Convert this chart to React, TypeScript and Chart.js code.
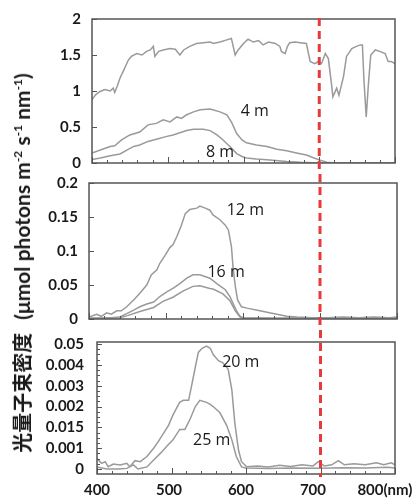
import React, { useEffect, useRef } from "react";
import { Chart, registerables } from "chart.js";
Chart.register(...registerables);

// ---------- shared axis data ----------
const X_MIN = 400;
const X_MAX = 800;
const X_LABEL_TICKS = [400, 500, 600, 700, 800];
const X_TICK_LABELS = ["400", "500", "600", "700", "800(nm)"];
const RED_LINE_NM = 700;

// ---------- panel 1 (0 - 2) ----------
const P1_Y_TICKS = [0, 0.5, 1, 1.5, 2];
const P1_Y_LABELS = ["0", "0.5", "1", "1.5", "2"];
const SURFACE: [number, number][] = [
  [400, 0.88], [405, 0.95], [410, 0.99], [417, 1.02], [424, 1.0], [428, 1.04], [430, 0.98], [433, 1.06],
  [437, 1.18], [441, 1.27], [448, 1.43], [452, 1.48], [459, 1.52], [466, 1.5], [472, 1.55], [477, 1.57],
  [481, 1.62], [483, 1.48], [488, 1.55], [494, 1.57], [503, 1.59], [510, 1.58], [516, 1.5], [521, 1.57],
  [529, 1.62], [538, 1.66], [547, 1.67], [556, 1.68], [560, 1.66], [569, 1.68], [578, 1.71], [584, 1.73],
  [589, 1.5], [593, 1.57], [600, 1.66], [606, 1.72], [613, 1.68], [620, 1.7], [626, 1.64], [633, 1.68],
  [642, 1.66], [648, 1.62], [650, 1.55], [655, 1.52], [658, 1.62], [661, 1.67], [668, 1.68], [675, 1.67],
  [683, 1.66], [688, 1.41], [694, 1.38], [699, 1.41], [703, 1.38], [708, 1.52], [712, 1.45], [716, 1.11],
  [718, 0.92], [723, 1.04], [726, 0.94], [732, 1.2], [736, 1.48], [743, 1.59], [749, 1.62], [754, 1.64],
  [757, 1.64], [759, 1.15], [762, 0.64], [765, 1.11], [768, 1.5], [774, 1.57], [780, 1.55], [787, 1.52],
  [791, 1.41], [795, 1.41], [800, 1.38],
];
const DEPTH_4M: [number, number][] = [
  [400, 0.14], [411, 0.18], [424, 0.23], [430, 0.24], [439, 0.32], [450, 0.39], [463, 0.43], [474, 0.53],
  [485, 0.55], [494, 0.6], [503, 0.57], [512, 0.64], [518, 0.62], [525, 0.67], [534, 0.71], [543, 0.74],
  [556, 0.75], [569, 0.71], [578, 0.67], [584, 0.57], [591, 0.41], [598, 0.32], [604, 0.28], [617, 0.25],
  [631, 0.23], [644, 0.19], [657, 0.17], [670, 0.14], [683, 0.11], [694, 0.065], [701, 0.04], [710, 0.01],
  [718, 0.003], [740, 0.002], [770, 0.002], [800, 0.002],
];
const DEPTH_8M: [number, number][] = [
  [400, 0.05], [411, 0.07], [424, 0.1], [437, 0.125], [446, 0.18], [455, 0.23], [463, 0.25], [474, 0.3],
  [485, 0.33], [499, 0.37], [507, 0.39], [516, 0.42], [525, 0.45], [534, 0.47], [547, 0.47], [556, 0.45],
  [565, 0.39], [573, 0.32], [582, 0.23], [591, 0.13], [598, 0.09], [604, 0.07], [617, 0.055], [635, 0.04],
  [657, 0.02], [675, 0.01], [692, 0.005], [710, 0.002], [800, 0.002],
];
const P1_LABEL_TEXT = ["4 m", "8 m"];
const P1_LABEL_AT: [number, number][] = [[615, 0.71], [569, 0.14]];

// ---------- panel 2 (0 - 0.2) ----------
const P2_Y_TICKS = [0, 0.05, 0.1, 0.15, 0.2];
const P2_Y_LABELS = ["0", "0.05", "0.1", "0.15", "0.2"];
const DEPTH_12M: [number, number][] = [
  [400, 0.003], [410, 0.007], [416, 0.004], [423, 0.009], [429, 0.007], [436, 0.012], [442, 0.012],
  [449, 0.018], [458, 0.028], [466, 0.038], [475, 0.05], [481, 0.065], [488, 0.072], [492, 0.082],
  [499, 0.094], [505, 0.105], [509, 0.109], [514, 0.121], [520, 0.138], [525, 0.155], [531, 0.161],
  [540, 0.163], [544, 0.166], [551, 0.163], [557, 0.16], [561, 0.153], [570, 0.146], [577, 0.138],
  [581, 0.131], [585, 0.106], [587, 0.077], [590, 0.048], [593, 0.028], [598, 0.018], [605, 0.016],
  [622, 0.012], [639, 0.008], [657, 0.004], [670, 0.003], [690, 0.002], [710, 0.002], [730, 0.003],
  [750, 0.002], [770, 0.003], [790, 0.002], [800, 0.003],
];
const DEPTH_16M: [number, number][] = [
  [400, 0.001], [420, 0.001], [440, 0.003], [449, 0.008], [458, 0.013], [466, 0.018], [475, 0.022],
  [484, 0.025], [492, 0.033], [501, 0.04], [509, 0.045], [518, 0.052], [527, 0.06], [535, 0.065],
  [544, 0.065], [557, 0.06], [566, 0.052], [577, 0.043], [583, 0.033], [587, 0.023], [592, 0.011],
  [596, 0.004], [600, 0.002], [650, 0.001], [700, 0.002], [750, 0.001], [800, 0.002],
];
const DEPTH_16M_B: [number, number][] = [
  [400, 0.001], [440, 0.002], [450, 0.005], [466, 0.011], [484, 0.017], [496, 0.026], [509, 0.032],
  [522, 0.041], [535, 0.048], [544, 0.049], [557, 0.045], [561, 0.044], [574, 0.037], [583, 0.027],
  [590, 0.012], [596, 0.003], [600, 0.001], [700, 0.001], [800, 0.001],
];
const P2_LABEL_TEXT = ["12 m", "16 m"];
const P2_LABEL_AT: [number, number][] = [[603, 0.159], [578, 0.068]];

// ---------- panel 3 ----------
const P3_Y_TICKS = [0, 0.001, 0.002, 0.003, 0.004, 0.005, 0.006];
const P3_Y_LABELS = ["0", "0.001", "0.015", "0.002", "0.003", "0.004", "0.05"];
const DEPTH_20M: [number, number][] = [
  [400, 0.0005], [406, 0.00027], [411, 0.00035], [415, 0.00011], [422, 0.00024], [431, 0.00019],
  [440, 0.00027], [444, 0.00011], [451, 0.0004], [458, 0.00035], [467, 0.0006], [476, 0.001],
  [482, 0.0013], [489, 0.0017], [496, 0.0021], [502, 0.0026], [511, 0.0032], [516, 0.0033],
  [523, 0.0033], [527, 0.004], [532, 0.0049], [536, 0.0056], [541, 0.0058], [547, 0.0059],
  [552, 0.0058], [556, 0.0055], [563, 0.0052], [569, 0.0051], [576, 0.0048], [581, 0.0038],
  [585, 0.0022], [590, 0.0009], [594, 0.00035], [601, 0.00011], [615, 0.00015], [630, 0.0001],
  [645, 0.00018], [660, 0.00012], [675, 0.0002], [690, 0.00015], [697, 0.00035], [705, 0.00015],
  [715, 0.0002], [724, 0.0004], [732, 0.0002], [745, 0.00025], [760, 0.0002], [775, 0.0003],
  [785, 0.0002], [795, 0.0003], [800, 0.0002],
];
const DEPTH_25M: [number, number][] = [
  [400, 0.0001], [413, 0], [430, 0], [440, 0.00003], [449, 0.0002], [455, 0], [467, 0.0001],
  [476, 0.00043], [485, 0.00075], [494, 0.0011], [502, 0.0014], [511, 0.0019], [518, 0.0019],
  [525, 0.0024], [532, 0.003], [538, 0.0033], [547, 0.0032], [552, 0.0031], [556, 0.003],
  [565, 0.0027], [574, 0.0021], [581, 0.0014], [587, 0.0006], [594, 0.0001], [600, 0.00005],
  [630, 0.00003], [660, 0.00005], [700, 0.00004], [730, 0.00006], [760, 0.00005], [790, 0.00008],
  [800, 0.00005],
];
const P3_LABEL_TEXT = ["20 m", "25 m"];
const P3_LABEL_AT: [number, number][] = [[593, 0.00514], [554, 0.00135]];

// ---------- styling ----------
const LINE_COLOR = "#9a9a9a";
const FRAME_COLOR = "#555555";
const RED = "#e53b3b";
const TICK_FONT = { family: "Lato", size: 15, weight: "bold" as const };
const PAGE_W = 415;

type PanelSpec = {
  top: number;
  height: number;
  pad: { top: number; right: number; bottom: number };
  yWidth: number;
  yPad: number;
  yMin: number;
  yMax: number;
  yTicks: number[];
  yLabels: string[];
  yMinor: number;
  series: [number, number][][];
  labelText: string[];
  labelAt: [number, number][];
  xLabels: boolean;
};

function decorPlugin(spec: PanelSpec) {
  return {
    id: "decor",
    afterDatasetsDraw(chart: any) {
      const { ctx, chartArea: a, scales } = chart;
      const xs = scales.x;
      const ys = scales.y;
      ctx.save();
      // inward tick marks
      ctx.strokeStyle = FRAME_COLOR;
      ctx.lineWidth = 1;
      ctx.beginPath();
      for (let v = X_MIN; v <= X_MAX; v += 20) {
        const px = Math.round(xs.getPixelForValue(v)) + 0.5;
        const len = v % 100 === 0 ? 6 : 3;
        ctx.moveTo(px, a.bottom);
        ctx.lineTo(px, a.bottom - len);
      }
      for (let v = spec.yTicks[0]; v <= spec.yTicks[spec.yTicks.length - 1] + 1e-12; v += spec.yMinor) {
        const py = Math.round(ys.getPixelForValue(v)) + 0.5;
        const major = spec.yTicks.some((t) => Math.abs(t - v) < spec.yMinor / 10);
        ctx.moveTo(a.left, py);
        ctx.lineTo(a.left + (major ? 5 : 3), py);
      }
      ctx.stroke();
      // frame
      ctx.strokeStyle = FRAME_COLOR;
      ctx.lineWidth = 1.5;
      ctx.strokeRect(a.left, a.top, a.right - a.left, a.bottom - a.top);
      // depth labels
      ctx.fillStyle = "#1a1a1a";
      ctx.font = '16px "Open Sans"';
      ctx.textAlign = "center";
      ctx.textBaseline = "middle";
      spec.labelText.forEach((t, i) => {
        const [lx, ly] = spec.labelAt[i];
        ctx.fillText(t, xs.getPixelForValue(lx), ys.getPixelForValue(ly));
      });
      // red dashed line (continuous across panels)
      const rx = xs.getPixelForValue(RED_LINE_NM);
      ctx.strokeStyle = RED;
      ctx.lineWidth = 3;
      ctx.setLineDash([8, 5]);
      ctx.beginPath();
      ctx.moveTo(rx, 18 - spec.top);
      ctx.lineTo(rx, 477 - spec.top);
      ctx.stroke();
      ctx.restore();
    },
  };
}

const PANELS: PanelSpec[] = [
  {
    top: 0, height: 172, pad: { top: 19, right: 20, bottom: 9 }, yWidth: 92, yPad: 11,
    yMin: 0, yMax: 2, yTicks: P1_Y_TICKS, yLabels: P1_Y_LABELS, yMinor: 0.5,
    series: [SURFACE, DEPTH_4M, DEPTH_8M], labelText: P1_LABEL_TEXT, labelAt: P1_LABEL_AT, xLabels: false,
  },
  {
    top: 172, height: 158, pad: { top: 11, right: 18, bottom: 11 }, yWidth: 89, yPad: 11,
    yMin: 0, yMax: 0.2, yTicks: P2_Y_TICKS, yLabels: P2_Y_LABELS, yMinor: 0.05,
    series: [DEPTH_12M, DEPTH_16M, DEPTH_16M_B], labelText: P2_LABEL_TEXT, labelAt: P2_LABEL_AT, xLabels: false,
  },
  {
    top: 330, height: 173, pad: { top: 12, right: 20, bottom: 0 }, yWidth: 97, yPad: 13,
    yMin: -0.00024, yMax: 0.0061, yTicks: P3_Y_TICKS, yLabels: P3_Y_LABELS, yMinor: 0.00025,
    series: [DEPTH_20M, DEPTH_25M], labelText: P3_LABEL_TEXT, labelAt: P3_LABEL_AT, xLabels: true,
  },
];

function buildConfig(spec: PanelSpec): any {
  const scales: any = {
    x: { type: "linear", min: X_MIN, max: X_MAX, display: false },
    y: {
      type: "linear",
      position: "left",
      min: spec.yMin,
      max: spec.yMax,
      afterBuildTicks: (s: any) => {
        s.ticks = spec.yTicks.map((v) => ({ value: v }));
      },
      afterFit: (s: any) => {
        s.width = spec.yWidth;
        s.paddingTop = 0;
        s.paddingBottom = 0;
      },
      grid: { display: false, drawTicks: false },
      border: { display: false },
      ticks: {
        padding: spec.yPad,
        color: "#1a1a1a",
        font: TICK_FONT,
        callback: (v: number) => {
          const i = spec.yTicks.findIndex((t) => Math.abs(t - v) < 1e-9);
          return i >= 0 ? spec.yLabels[i] : "";
        },
      },
    },
  };
  if (spec.xLabels) {
    // labelling axis: labels spaced as in the original figure
    scales.xl = {
      type: "linear",
      position: "bottom",
      min: X_MIN,
      max: 814,
      afterBuildTicks: (s: any) => {
        s.ticks = X_LABEL_TICKS.map((v) => ({ value: v }));
      },
      afterFit: (s: any) => {
        s.height = 29;
        s.paddingLeft = 0;
        s.paddingRight = 0;
      },
      grid: { display: false, drawTicks: false },
      border: { display: false },
      ticks: {
        padding: 7,
        maxRotation: 0,
        autoSkip: false,
        color: "#1a1a1a",
        font: TICK_FONT,
        callback: (v: number) => {
          const i = X_LABEL_TICKS.indexOf(v);
          return i >= 0 ? X_TICK_LABELS[i] : "";
        },
      },
    };
  }
  return {
    type: "line",
    data: {
      datasets: spec.series.map((s) => ({
        data: s.map(([x, y]) => ({ x, y })),
        xAxisID: "x",
        yAxisID: "y",
        borderColor: LINE_COLOR,
        borderWidth: 1.5,
        pointRadius: 0,
        tension: 0,
        fill: false,
      })),
    },
    options: {
      responsive: false,
      animation: false,
      devicePixelRatio: 1,
      layout: { padding: { left: 0, top: spec.pad.top, right: spec.pad.right, bottom: spec.pad.bottom } },
      plugins: { legend: { display: false }, tooltip: { enabled: false } },
      scales,
    },
    plugins: [decorPlugin(spec)],
  };
}

export default function App() {
  const refs = useRef<(HTMLCanvasElement | null)[]>([]);
  useEffect(() => {
    const charts = PANELS.map((p, i) => new Chart(refs.current[i] as HTMLCanvasElement, buildConfig(p)));
    return () => charts.forEach((c) => c.destroy());
  }, []);
  return (
    <div style={{ position: "absolute", left: 0, top: 0, width: PAGE_W, height: 503, background: "#fff", overflow: "hidden" }}>
      {PANELS.map((p, i) => (
        <canvas
          key={i}
          ref={(el) => {
            refs.current[i] = el;
          }}
          width={PAGE_W}
          height={p.height}
          style={{ position: "absolute", left: 0, top: p.top, width: PAGE_W, height: p.height }}
        />
      ))}
      <div
        style={{
          position: "absolute",
          left: 22,
          top: 263,
          transform: "translate(-50%, -50%) rotate(-90deg)",
          whiteSpace: "nowrap",
          fontWeight: "bold",
          color: "#1a1a1a",
          lineHeight: 1,
        }}
      >
        <span style={{ fontFamily: '"Noto Sans CJK JP"', fontSize: 20 }}>光量子束密度</span>
        <span style={{ fontFamily: "Lato", fontSize: 21, marginLeft: 13 }}>
          (μmol photons m<sup style={{ fontSize: 12 }}>-2</sup> s<sup style={{ fontSize: 12 }}>-1</sup> nm
          <sup style={{ fontSize: 12 }}>-1</sup>)
        </span>
      </div>
    </div>
  );
}
